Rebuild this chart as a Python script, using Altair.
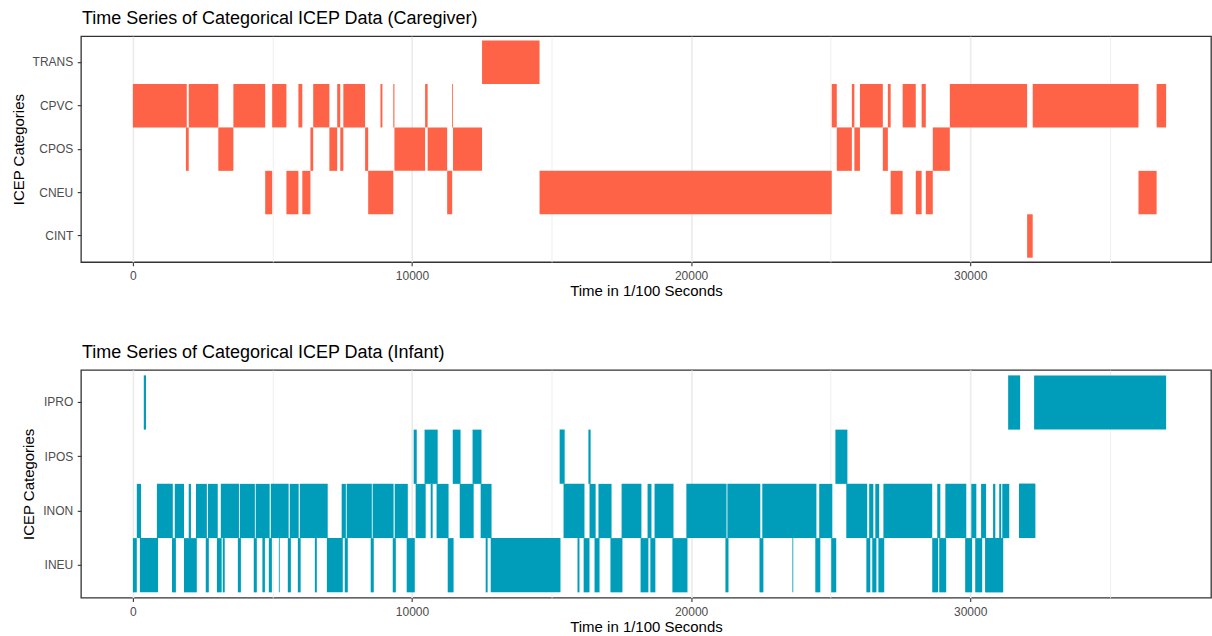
import altair as alt
import pandas as pd

# ---------------- data (times in 1/100 s) ----------------
cg_category = ["CPVC", "CPOS", "CPVC", "CPOS", "CPVC", "CNEU", "CPVC", "CNEU", "CPVC", "CNEU",
               "CPOS", "CPVC", "CPOS", "CPVC", "CPOS", "CPVC", "CPOS", "CNEU", "CPVC", "CPVC",
               "CPOS", "CPVC", "CPOS", "CNEU", "CPVC", "CPOS", "TRANS", "CNEU", "CPVC", "CPOS",
               "CPVC", "CPOS", "CPVC", "CPOS", "CPVC", "CNEU", "CPVC", "CNEU", "CPVC", "CNEU",
               "CPOS", "CPVC", "CINT", "CPVC", "CNEU", "CPVC"]
cg_start = [0, 1900, 2000, 3060, 3600, 4740, 4990, 5500, 5930, 6070,
            6360, 6460, 7040, 7320, 7430, 7540, 8320, 8430, 8870, 9330,
            9370, 10470, 10560, 11260, 11440, 11470, 12510, 14570, 25040, 25220,
            25760, 25850, 26050, 26870, 27050, 27150, 27580, 28050, 28260, 28410,
            28660, 29270, 32040, 32240, 36030, 36680]
cg_end = [1930, 2000, 3060, 3600, 4740, 4990, 5500, 5930, 6070, 6360,
          6460, 7040, 7320, 7430, 7540, 8320, 8430, 9330, 8940, 9370,
          10470, 10560, 11260, 11440, 11470, 12510, 14570, 25040, 25220, 25760,
          25850, 26050, 26870, 27050, 27150, 27580, 28050, 28260, 28410, 28660,
          29270, 32040, 32240, 36030, 36680, 37020]

inf_category = ["INEU", "INON", "INEU", "IPRO", "INON", "INEU", "INON", "INEU", "INON", "INON",
                "INEU", "INON", "INEU", "INON", "INEU", "INEU", "INON", "INEU", "INON", "INEU",
                "INEU", "INON", "INEU", "INEU", "INON", "INEU", "INON", "INEU", "INEU", "INON",
                "INEU", "INON", "INEU", "INON", "INEU", "INON", "INEU", "IPOS", "INON", "IPOS",
                "INON", "INON", "INEU", "IPOS", "INON", "IPOS", "INON", "INEU", "INEU", "IPOS",
                "INON", "INEU", "INEU", "IPOS", "INON", "INEU", "INON", "INEU", "INON", "INEU",
                "INON", "INEU", "INON", "INEU", "INON", "INEU", "INON", "INEU", "INON", "INEU",
                "INON", "INEU", "INEU", "INON", "INEU", "IPOS", "INON", "INEU", "INON", "INEU",
                "INON", "INEU", "INON", "INEU", "INON", "INEU", "INON", "INEU", "INON", "INEU",
                "INON", "INEU", "INON", "INON", "INON", "IPRO", "INON", "IPRO"]
inf_start = [0, 140, 250, 390, 860, 1400, 1500, 1830, 2000, 2260,
             2610, 2690, 3010, 3150, 3220, 3760, 3830, 4330, 4400, 4640,
             4870, 4940, 5230, 5550, 5620, 5910, 5980, 6520, 6950, 7480,
             7590, 7660, 8520, 8590, 9310, 9380, 9810, 10060, 10130, 10450,
             10670, 10880, 11280, 11460, 11710, 12170, 12460, 12640, 12820, 15290,
             15430, 15930, 16150, 16320, 16360, 16540, 16680, 17110, 17510, 18190,
             18440, 18540, 18690, 19330, 19830, 21230, 21300, 22450, 22550, 23630,
             24590, 24450, 25020, 25560, 26280, 25170, 26380, 26490, 26600, 26710,
             26890, 28640, 28820, 28890, 29110, 29820, 30040, 30180, 30390, 30540,
             30820, 30540, 31040, 31150, 31750, 31360, 31750, 32290]
inf_end = [140, 290, 900, 470, 1430, 1540, 1830, 2290, 2080, 2650,
           2720, 3040, 3180, 3800, 3290, 3870, 4370, 4440, 4900, 4730,
           4980, 5580, 5260, 5660, 5940, 6010, 6980, 6590, 7520, 7630,
           7700, 8560, 8630, 9340, 9420, 9850, 10100, 10170, 10490, 10920,
           10740, 11310, 11490, 11740, 12210, 12490, 12850, 12710, 15320, 15470,
           16180, 16000, 16360, 16400, 16580, 16720, 17150, 17540, 18220, 18470,
           18580, 18720, 19370, 19870, 21270, 21340, 22480, 22590, 24490, 23660,
           25060, 24630, 25200, 26310, 26420, 25600, 26530, 26640, 26740, 26920,
           28640, 28850, 28930, 29140, 29860, 30070, 30220, 30430, 30570, 31180,
           30900, 31180, 31110, 31400, 32330, 31790, 32330, 37020]

cg_order = ["TRANS", "CPVC", "CPOS", "CNEU", "CINT"]
inf_order = ["IPRO", "IPOS", "INON", "INEU"]

cg_df = pd.DataFrame({"category": cg_category, "start": cg_start, "end": cg_end})
inf_df = pd.DataFrame({"category": inf_category, "start": inf_start, "end": inf_end})

X_DOMAIN = [-1862, 38628]
FONT = "Liberation Sans"


def panel(df, order, color, title, height):
    x_axis = alt.Axis(
        values=[0, 5000, 10000, 15000, 20000, 25000, 30000, 35000],
        labelExpr="datum.value % 10000 === 0 ? format(datum.value, 'd') : ''",
        tickOpacity={"condition": {"test": "datum.value % 10000 !== 0", "value": 0}, "value": 1},
        gridWidth={"condition": {"test": "datum.value % 10000 !== 0", "value": 0.8}, "value": 1.6},
        labelPadding=5,
        titlePadding=2,
    )
    y_axis = alt.Axis(bandPosition=0.5, labelPadding=4.5, titlePadding=6)
    return (
        alt.Chart(
            df,
            title=alt.Title(
                title, anchor="start", frame="group", fontSize=18, font=FONT,
                fontWeight="normal", color="black", offset=8, dx=1,
            ),
        )
        .mark_rect(color=color, stroke=None)
        .encode(
            x=alt.X("start:Q", scale=alt.Scale(domain=X_DOMAIN, nice=False, zero=False),
                    axis=x_axis, title="Time in 1/100 Seconds"),
            x2="end:Q",
            y=alt.Y("category:N", sort=order,
                    scale=alt.Scale(paddingInner=0, paddingOuter=0.1),
                    axis=y_axis, title="ICEP Categories"),
        )
        .properties(width=1131, height=height)
    )


top = panel(cg_df, cg_order, "#FF6347", "Time Series of Categorical ICEP Data (Caregiver)", 226)
bottom = panel(inf_df, inf_order, "#009DBA", "Time Series of Categorical ICEP Data (Infant)", 228)

chart = (
    alt.vconcat(top, bottom, spacing=43)
    .properties(padding={"left": 10, "top": 9, "right": 0, "bottom": 0})
    .configure_view(stroke="#333333", strokeWidth=1.3)
    .configure_axis(
        labelFont=FONT, labelFontSize=12, labelColor="#4D4D4D",
        titleFont=FONT, titleFontSize=15, titleColor="black", titleFontWeight="normal",
        tickColor="#333333", tickSize=3.7, tickWidth=1.1,
        domain=False, gridColor="#EBEBEB", gridWidth=1.6,
    )
)

chart.save("out.html", embed_options={"renderer": "svg", "actions": False})
